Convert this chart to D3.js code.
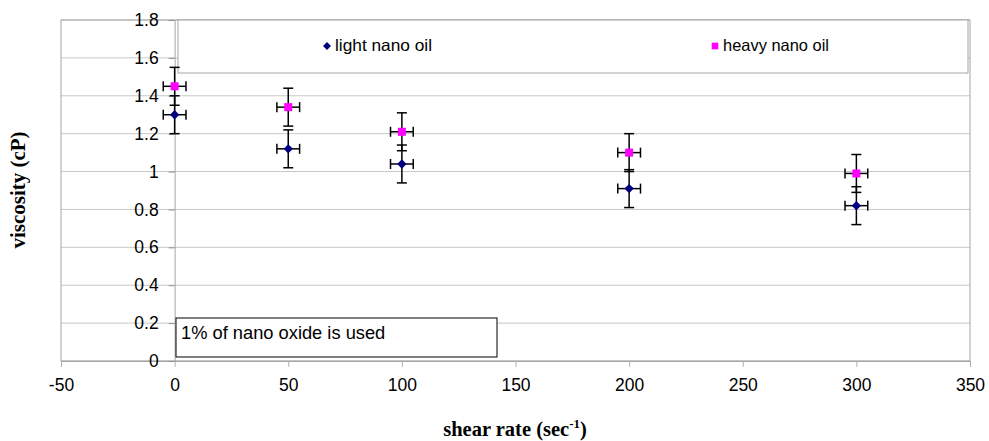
<!DOCTYPE html>
<html><head><meta charset="utf-8">
<script src="https://cdn.jsdelivr.net/npm/d3@7"></script>
<style>body{margin:0;background:#fff;}svg{display:block;}</style>
</head><body>
<svg id="c" width="989" height="441"></svg>
<script>
const shearRates = [0, 50, 100, 200, 300];
const lightNanoOil = [1.30, 1.12, 1.04, 0.91, 0.82];
const heavyNanoOil = [1.45, 1.34, 1.21, 1.10, 0.99];
const yErr = 0.1;
const xErr = 5;
const xTicks = [-50, 0, 50, 100, 150, 200, 250, 300, 350];
const yTicks = [0, 0.2, 0.4, 0.6, 0.8, 1, 1.2, 1.4, 1.6, 1.8];
const seriesNames = ["light nano oil", "heavy nano oil"];
const seriesColors = ["#000080", "#ff00ff"];

const svg = d3.select("#c");
const x = d3.scaleLinear().domain([-50, 350]).range([61, 970]);
const y = d3.scaleLinear().domain([0, 1.8]).range([361, 20]);
const diamond = d3.symbolDiamond2 || d3.symbolDiamond;

// gridlines
svg.append("g").selectAll("line").data(yTicks).join("line")
  .attr("x1", x(-50)).attr("x2", x(350))
  .attr("y1", d => y(d)).attr("y2", d => y(d))
  .attr("stroke", "#c8c8c8").attr("stroke-width", 1);
// plot border
svg.append("rect").attr("x", x(-50)).attr("y", y(1.8))
  .attr("width", x(350) - x(-50)).attr("height", y(0) - y(1.8))
  .attr("fill", "none").attr("stroke", "#a6a6a6").attr("stroke-width", 1);

// x axis at y=0
const xAxis = d3.axisBottom(x).tickValues(xTicks).tickSize(6).tickFormat(d => String(d));
const gx = svg.append("g").attr("transform", `translate(0,${y(0)})`).call(xAxis);
gx.select(".domain").attr("stroke", "#a6a6a6");
gx.selectAll(".tick line").attr("stroke", "#b0b0b0");
gx.selectAll("text").attr("font-family", "Liberation Sans, Arial, sans-serif")
  .attr("font-size", 17.5).attr("fill", "#000").attr("dy", "1.2em");

// y axis at x=0
const yAxis = d3.axisLeft(y).tickValues(yTicks).tickSize(6).tickFormat(d => String(+d.toFixed(1)));
const gy = svg.append("g").attr("transform", `translate(${x(0)},0)`).call(yAxis);
gy.select(".domain").attr("stroke", "#a6a6a6");
gy.selectAll(".tick line").attr("stroke", "#909090");
gy.selectAll("text").attr("font-family", "Liberation Sans, Arial, sans-serif")
  .attr("font-size", 17.5).attr("fill", "#000").attr("x", -16);

// legend box
const lg = svg.append("g");
lg.append("rect").attr("x", 178).attr("y", 20).attr("width", 790).attr("height", 53)
  .attr("fill", "#fff").attr("stroke", "#a6a6a6");
const legendX = [327, 715];
seriesNames.forEach((n, i) => {
  const sym = i === 0 ? diamond : d3.symbolSquare;
  lg.append("path").attr("d", d3.symbol(sym, i === 0 ? 40 : 44)())
    .attr("transform", `translate(${legendX[i]},46)`)
    .attr("fill", seriesColors[i]);
  lg.append("text").attr("x", legendX[i] + 8).attr("y", 51).text(n)
    .attr("font-family", "Liberation Sans, Arial, sans-serif").attr("font-size", 16.5)
    .attr("textLength", i === 0 ? 97 : 106).attr("lengthAdjust", "spacingAndGlyphs");
});

// annotation box
svg.append("rect").attr("x", 176).attr("y", 318).attr("width", 321).attr("height", 39)
  .attr("fill", "#fff").attr("stroke", "#000").attr("stroke-width", 1);
svg.append("text").attr("x", 181).attr("y", 339).text("1% of nano oxide is used")
  .attr("font-family", "Liberation Sans, Arial, sans-serif").attr("font-size", 18.3);

// error bars + points
const series = [lightNanoOil, heavyNanoOil];
series.forEach((vals, si) => {
  const g = svg.append("g");
  const data = shearRates.map((s, i) => ({s, v: vals[i]}));
  const eb = g.selectAll("g.eb").data(data).join("g").attr("stroke", "#000").attr("stroke-width", 1.5);
  eb.append("line").attr("x1", d => x(d.s)).attr("x2", d => x(d.s))
    .attr("y1", d => y(d.v - yErr)).attr("y2", d => y(d.v + yErr));
  [-1, 1].forEach(k => {
    eb.append("line").attr("x1", d => x(d.s) - 5).attr("x2", d => x(d.s) + 5)
      .attr("y1", d => y(d.v + k * yErr)).attr("y2", d => y(d.v + k * yErr));
  });
  eb.append("line").attr("x1", d => x(d.s - xErr)).attr("x2", d => x(d.s + xErr))
    .attr("y1", d => y(d.v)).attr("y2", d => y(d.v));
  [-1, 1].forEach(k => {
    eb.append("line").attr("x1", d => x(d.s + k * xErr)).attr("x2", d => x(d.s + k * xErr))
      .attr("y1", d => y(d.v) - 5).attr("y2", d => y(d.v) + 5);
  });
  const sym = si === 0 ? diamond : d3.symbolSquare;
  g.selectAll("path.pt").data(data).join("path")
    .attr("d", d3.symbol(sym, si === 0 ? 56 : 64)())
    .attr("transform", d => `translate(${x(d.s)},${y(d.v)})`)
    .attr("fill", seriesColors[si]);
});

// axis titles
svg.append("text").attr("transform", `translate(25,190) rotate(-90)`)
  .attr("text-anchor", "middle").attr("font-family", "Liberation Serif, Times New Roman, serif")
  .attr("font-weight", "bold").attr("font-size", 21).text("viscosity (cP)");
const xt = svg.append("text").attr("x", 515).attr("y", 436).attr("text-anchor", "middle")
  .attr("font-family", "Liberation Serif, Times New Roman, serif")
  .attr("font-weight", "bold").attr("font-size", 20.5);
xt.append("tspan").text("shear rate (sec");
xt.append("tspan").text("-1").attr("font-size", 13).attr("dy", -8);
xt.append("tspan").text(")").attr("dy", 8);
</script>
</body></html>
